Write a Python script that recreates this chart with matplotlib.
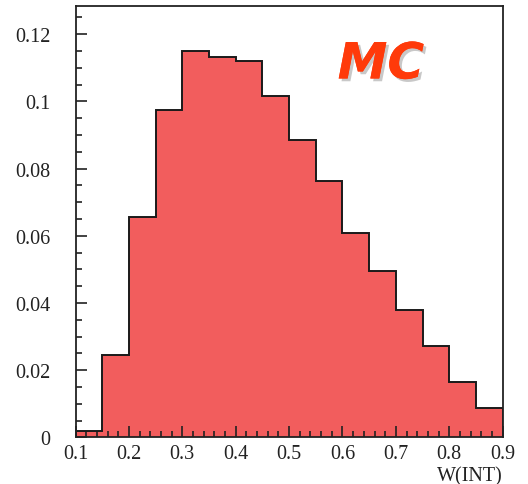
import matplotlib.pyplot as plt
import matplotlib.patheffects as pe
from matplotlib.ticker import MultipleLocator

# W(INT) distribution, normalised histogram
bin_edges = [0.10, 0.15, 0.20, 0.25, 0.30, 0.35, 0.40, 0.45, 0.50,
             0.55, 0.60, 0.65, 0.70, 0.75, 0.80, 0.85, 0.90]
bin_values = [0.0018, 0.0245, 0.0656, 0.0973, 0.1149, 0.1132, 0.1119, 0.1016,
              0.0886, 0.0762, 0.0607, 0.0496, 0.0379, 0.0272, 0.0166, 0.0087]

fig = plt.figure(figsize=(5.28, 4.85), dpi=100)
ax = fig.add_axes([0.143, 0.096, 0.809, 0.889])

ax.stairs(bin_values, bin_edges, fill=True, color='#f25d5d', zorder=1)
ax.stairs(bin_values, bin_edges, color='#1a1a1a', linewidth=1.4, baseline=0, zorder=2)

ax.set_xlim(0.1, 0.9)
ax.set_ylim(0, 0.1283)

ax.xaxis.set_major_locator(MultipleLocator(0.1))
ax.xaxis.set_minor_locator(MultipleLocator(0.02))
ax.yaxis.set_major_locator(MultipleLocator(0.02))
ax.yaxis.set_minor_locator(MultipleLocator(0.005))

ax.tick_params(which='both', direction='in', top=False, right=False,
               width=1.2, colors='#222222')
ax.tick_params(which='major', length=8)
ax.tick_params(which='minor', length=4)
ax.tick_params(axis='y', which='major', pad=18)
ax.tick_params(axis='x', which='major', pad=5)

for lab in ax.get_xticklabels() + ax.get_yticklabels():
    lab.set_fontfamily('Liberation Serif')
    lab.set_fontsize(14.5)
    lab.set_color('#222222')

ax.set_xticks([0.1, 0.2, 0.3, 0.4, 0.5, 0.6, 0.7, 0.8, 0.9])
ax.set_xticklabels(['0.1', '0.2', '0.3', '0.4', '0.5', '0.6', '0.7', '0.8', '0.9'],
                   fontfamily='Liberation Serif', fontsize=14.5, color='#222222')
ax.set_yticks([0, 0.02, 0.04, 0.06, 0.08, 0.1, 0.12])
ax.set_yticklabels(['0', '0.02', '0.04', '0.06', '0.08', '0.1', '0.12'],
                   fontfamily='Liberation Serif', fontsize=14.5, color='#222222')

for sp in ax.spines.values():
    sp.set_linewidth(1.3)
    sp.set_color('#222222')

ax.set_xlabel('W(INT)', fontfamily='Liberation Serif', fontsize=14.5,
              color='#222222', loc='right', labelpad=2)

ax.text(0.715, 0.865, 'MC', transform=ax.transAxes, ha='center', va='center',
        fontsize=36, fontweight='bold', fontstyle='italic', color='#ff3a0a',
        family='DejaVu Sans',
        path_effects=[pe.withSimplePatchShadow(offset=(2, -2), shadow_rgbFace='#bbbbbb', alpha=0.8),
                      pe.Normal()])

fig.savefig('out.png', dpi=100)
